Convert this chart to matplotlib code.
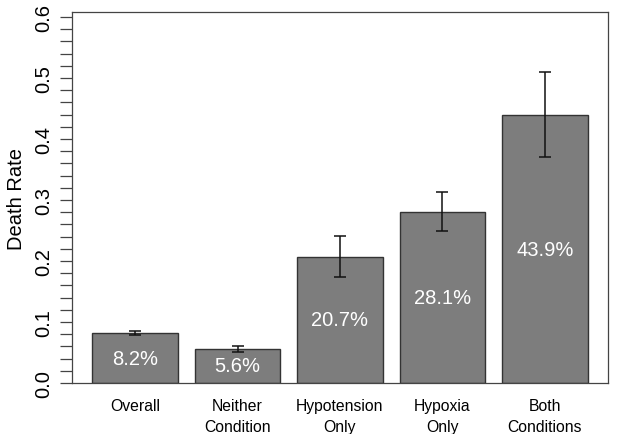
import numpy as np
import matplotlib
matplotlib.use("Agg")
import matplotlib.pyplot as plt
from matplotlib.ticker import MultipleLocator

plt.rcParams['font.family'] = ['Liberation Sans', 'DejaVu Sans']

# values
categories = ["Overall", "Neither\nCondition", "Hypotension\nOnly", "Hypoxia\nOnly", "Both\nConditions"]
death_rate = [0.082, 0.056, 0.207, 0.281, 0.439]
ci_lower = [0.078, 0.051, 0.174, 0.249, 0.370]
ci_upper = [0.086, 0.060, 0.241, 0.313, 0.509]
bar_labels = ["8.2%", "5.6%", "20.7%", "28.1%", "43.9%"]
y_ticks = [0.0, 0.1, 0.2, 0.3, 0.4, 0.5, 0.6]

x = np.arange(len(categories))
rate = np.array(death_rate)
err = np.array([rate - np.array(ci_lower), np.array(ci_upper) - rate])

fig = plt.figure(figsize=(6.17, 4.35), dpi=100)
ax = fig.add_axes([0.1167, 0.1172, 0.8687, 0.8528])

ax.bar(x, rate, width=1 / 1.2, color="#7d7d7d", edgecolor="#333333", linewidth=1.0)
ax.errorbar(x, rate, yerr=err, fmt="none", ecolor="#111111", elinewidth=1.1,
            capsize=4.5, capthick=1.1)

for xi, r, lab in zip(x, rate, bar_labels):
    ax.text(xi, r / 2, lab, ha="center", va="center", color="white", fontsize=14.5)

ax.set_xlim(-0.615, 4.615)
ax.set_ylim(0, 0.608)
ax.set_xticks(x)
ax.set_xticklabels(categories, fontsize=11.3, linespacing=1.45)
ax.tick_params(axis="x", length=0, pad=11)

ax.set_yticks(y_ticks)
ax.set_yticklabels([f"{t:.1f}" for t in y_ticks], rotation=90, va="center", fontsize=14.5)
ax.yaxis.set_minor_locator(MultipleLocator(0.02))
ax.tick_params(axis="y", which="both", length=8.6, width=0.9, color="#444444", pad=5)

for s in ax.spines.values():
    s.set_color("#444444")
    s.set_linewidth(0.9)

ax.set_ylabel("Death Rate", fontsize=14.5, labelpad=6)

fig.savefig("out.png", dpi=100)
